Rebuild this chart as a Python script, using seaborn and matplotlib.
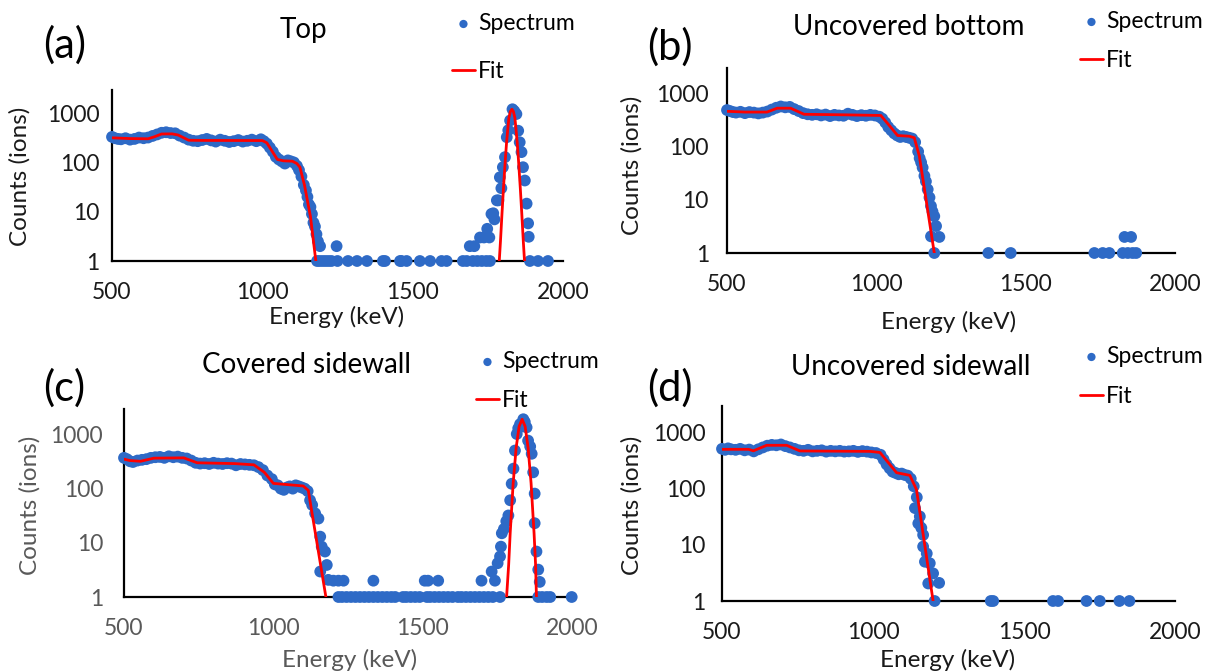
import numpy as np
import pandas as pd
import matplotlib
matplotlib.use("Agg")
import matplotlib.pyplot as plt
from matplotlib.ticker import FixedLocator, FixedFormatter, NullLocator
import seaborn as sns

# ---------------- data ----------------
# Panel (a) Top
a_energy = [500, 510, 520, 530, 545, 560, 575, 590, 605, 620, 635, 650, 665, 680, 695, 710, 725, 740,
            755, 770, 785, 800, 815, 830, 845, 860, 875, 890, 905, 920, 935, 950, 965, 980, 995,
            1005, 1015, 1025, 1035, 1045, 1055, 1065, 1075, 1085, 1095, 1105, 1115, 1122, 1130, 1138,
            1145, 1150, 1155, 1160, 1165, 1170, 1175, 1180, 1185, 1192,
            1182, 1190, 1200, 1210, 1220, 1230, 1247, 1250, 1285, 1315, 1348, 1401, 1408, 1458, 1463,
            1480, 1524, 1558, 1596, 1613, 1667, 1680, 1700, 1715, 1730, 1745, 1757, 1890, 1917, 1950,
            1690, 1705, 1724, 1737, 1748, 1755, 1762, 1768, 1772, 1780, 1785, 1790, 1795, 1800, 1807,
            1813, 1818, 1824, 1832, 1838, 1845, 1851, 1856, 1862, 1867, 1873, 1879, 1884, 1886]
a_counts = [330, 310, 300, 295, 310, 290, 300, 320, 310, 320, 345, 370, 400, 410, 395, 390, 350, 320,
            290, 275, 270, 285, 300, 280, 265, 290, 275, 260, 270, 285, 265, 275, 290, 270, 295,
            270, 240, 200, 165, 130, 115, 105, 95, 110, 105, 100, 85, 70, 52, 35,
            27, 20, 14, 12.5, 9, 6, 5, 3.5, 2.5, 2,
            1, 1, 1, 1, 1, 1, 2, 1, 1, 1, 1, 1, 1, 1, 1,
            1, 1, 1, 1, 1, 1, 1, 1, 1, 1, 1, 1, 1, 1, 1,
            2, 2, 3, 3, 4.5, 3, 9, 9.3, 7, 17, 17, 50, 30, 80, 128,
            325, 450, 710, 1200, 1100, 960, 440, 257, 162, 80, 43, 14.6, 5.8, 3.1]
a_fit_energy = [500, 560, 620, 640, 665, 700, 720, 755, 800, 1000, 1015, 1035, 1050, 1070, 1100, 1115,
                1125, 1140, 1160, 1178]
a_fit_counts = [316, 305, 302, 330, 378, 380, 360, 282, 280, 278, 250, 160, 115, 108, 106, 95,
                80, 35, 8, 1]
a_peak_energy = [1788, 1792, 1797, 1802, 1808, 1812, 1816, 1820, 1825, 1830, 1835, 1840, 1844, 1848,
                 1852, 1858, 1863, 1868, 1872]
a_peak_counts = [1, 2.5, 9, 30, 110, 240, 450, 800, 1080, 1200, 1080, 800, 450, 240,
                 110, 30, 9, 2.5, 1]

# Panel (b) Uncovered bottom
b_energy = [500, 510, 520, 530, 545, 560, 575, 590, 605, 620, 635, 650, 665, 680, 695, 710, 725, 740,
            755, 770, 785, 800, 815, 830, 845, 860, 875, 890, 905, 920, 935, 950, 965, 980, 995,
            1010, 1020, 1030, 1040, 1050, 1060, 1070, 1080, 1090, 1100, 1110, 1120, 1130, 1140,
            1145, 1150, 1155, 1161, 1166, 1172, 1178, 1183, 1188, 1194, 1200, 1183, 1211, 1194,
            1375, 1450, 1730, 1758, 1780, 1825, 1842, 1858, 1870, 1831, 1853]
b_counts = [480, 460, 440, 430, 445, 420, 440, 430, 415, 430, 450, 490, 530, 560, 540, 550, 500, 460,
            420, 400, 390, 400, 380, 395, 370, 390, 380, 375, 410, 390, 370, 385, 375, 390, 380,
            360, 330, 280, 230, 200, 175, 160, 150, 155, 150, 145, 140, 120, 80,
            60, 50, 40, 28, 22, 15.6, 11, 7.6, 6, 4.9, 3.2, 2.05, 2, 1,
            1, 1, 1, 1, 1, 1, 1, 1, 1, 2, 2]
b_fit_energy = [500, 560, 634, 668, 713, 758, 900, 1015, 1040, 1071, 1110, 1127, 1144, 1194]
b_fit_counts = [455, 440, 440, 520, 520, 400, 390, 380, 260, 160, 155, 145, 66, 1]

# Panel (c) Covered sidewall
c_energy = [500, 510, 520, 530, 545, 560, 575, 590, 605, 620, 635, 650, 665, 680, 695, 710, 725, 740,
            755, 770, 785, 800, 815, 830, 845, 860, 875, 890, 905, 920, 935, 950, 965, 980, 995,
            1005, 1015, 1025, 1035, 1045, 1055, 1065, 1075, 1085, 1095, 1105, 1115, 1123, 1130, 1140,
            1151, 1157, 1162, 1173, 1179, 1157, 1184, 1201, 1218, 1235, 1335, 1507, 1518, 1552,
            1218, 1230, 1245, 1260, 1275, 1290, 1305, 1320, 1335, 1350, 1365, 1380, 1395, 1408, 1434,
            1445, 1460, 1475, 1490, 1514, 1525, 1540, 1555, 1570, 1585, 1600, 1618, 1630, 1645, 1660,
            1675, 1690, 1705, 1720, 1735, 1759, 1887, 1900, 1915, 1927, 1999,
            1697, 1742, 1731, 1751, 1759, 1762, 1765, 1772, 1780, 1787, 1793, 1798, 1804, 1809, 1815,
            1820, 1826, 1837, 1842, 1848, 1853, 1860, 1865, 1870, 1875, 1875, 1881, 1887, 1892]
c_counts = [370, 350, 320, 310, 330, 340, 350, 370, 380, 385, 370, 395, 380, 390, 370, 360, 330, 300,
            290, 295, 285, 300, 290, 285, 295, 290, 270, 285, 280, 275, 270, 250, 220, 175, 150,
            120, 115, 100, 95, 105, 110, 100, 115, 110, 105, 100, 90, 61, 50, 35,
            28, 13, 8.5, 6.9, 3.9, 2.95, 2.07, 2, 2, 2, 2, 2, 2, 2,
            1, 1, 1, 1, 1, 1, 1, 1, 1, 1, 1, 1, 1, 1, 1,
            1, 1, 1, 1, 1, 1, 1, 1, 1, 1, 1, 1, 1, 1, 1,
            1, 1, 1, 1, 1, 1, 1, 1, 1, 1, 1,
            2, 2, 2.95, 4.2, 5.6, 8.5, 15, 18, 25, 32, 61, 123, 234, 505, 1020,
            1300, 1550, 1910, 1700, 1350, 770, 600, 440, 200, 81, 23, 6.9, 3.2, 1.9]
c_fit_energy = [500, 520, 555, 600, 700, 745, 870, 935, 970, 1000, 1100, 1117, 1176]
c_fit_counts = [350, 330, 320, 365, 370, 300, 290, 275, 200, 125, 112, 93, 1]
c_peak_energy = [1781, 1788, 1793, 1803, 1813, 1823, 1833, 1843, 1853, 1863, 1873, 1878, 1881]
c_peak_counts = [1, 4, 15, 126, 570, 1410, 1910, 1410, 570, 126, 15, 4, 1]

# Panel (d) Uncovered sidewall
d_energy = [500, 510, 520, 530, 545, 560, 575, 590, 605, 620, 635, 650, 665, 680, 695, 710, 725, 740,
            755, 770, 785, 800, 815, 830, 845, 860, 875, 890, 905, 920, 935, 950, 965, 980, 995,
            1010, 1025, 1035, 1045, 1055, 1065, 1075, 1085, 1095, 1105, 1115, 1125, 1135, 1139, 1145,
            1150, 1155, 1160, 1166, 1166, 1172, 1178, 1188, 1199, 1183, 1219, 1204,
            1390, 1398, 1596, 1613, 1707, 1751, 1816, 1849]
d_counts = [510, 490, 520, 500, 490, 510, 480, 495, 460, 500, 540, 580, 600, 590, 610, 570, 540, 510,
            480, 470, 490, 460, 470, 480, 455, 470, 460, 470, 455, 460, 470, 450, 465, 455, 440,
            430, 400, 330, 270, 230, 200, 190, 180, 185, 175, 170, 150, 110, 45, 70,
            24, 32, 20, 15, 9.3, 5, 7, 4.7, 3.1, 2.05, 2.1, 1,
            1, 1, 1, 1, 1, 1, 1, 1]
d_fit_energy = [500, 588, 604, 648, 714, 758, 990, 1023, 1078, 1122, 1144, 1199]
d_fit_counts = [500, 500, 470, 590, 590, 468, 460, 440, 192, 172, 96, 1]

titles = ["Top", "Uncovered bottom", "Covered sidewall", "Uncovered sidewall"]
letters = ["(a)", "(b)", "(c)", "(d)"]
x_ticks = [500, 1000, 1500, 2000]
y_ticks = [1, 10, 100, 1000]
y_tick_labels = ["1", "10", "100", "1000"]
x_label = "Energy (keV)"
y_label = "Counts (ions)"

# ---------------- style ----------------
sns.set_theme(style="white")
plt.rcParams['font.family'] = ['Lato', 'DejaVu Sans']

BLUE = "#2E6AC6"
RED = "#FF0000"
W, H = 1205, 671
fig = plt.figure(figsize=(W / 100, H / 100), dpi=100)


def rect(x0, x1, ytop, ybot):
    return [x0 / W, 1 - ybot / H, (x1 - x0) / W, (ybot - ytop) / H]


panels = [
    dict(r=rect(112, 563, 90, 261), E=a_energy, C=a_counts, fE=a_fit_energy, fC=a_fit_counts,
         pE=a_peak_energy, pC=a_peak_counts, tc="#1a1a1a", ypad=4,
         title=(303, 30), letter=(65, 45), xl=(337, 317), yl=(20, 176),
         leg=(452, 13), lsp=1.2),
    dict(r=rect(727, 1175, 68, 253), E=b_energy, C=b_counts, fE=b_fit_energy, fC=b_fit_counts,
         pE=None, pC=None, tc="#1a1a1a", ypad=8,
         title=(909, 27), letter=(670, 47), xl=(949, 322), yl=(632, 165),
         leg=(1080, 11), lsp=0.8),
    dict(r=rect(124, 572, 409, 597), E=c_energy, C=c_counts, fE=c_fit_energy, fC=c_fit_counts,
         pE=c_peak_energy, pC=c_peak_counts, tc="#595959", ypad=10,
         title=(306, 365), letter=(64, 388), xl=(350, 660), yl=(30, 505),
         leg=(476, 351), lsp=0.8),
    dict(r=rect(722, 1175, 406, 601), E=d_energy, C=d_counts, fE=d_fit_energy, fC=d_fit_counts,
         pE=None, pC=None, tc="#1a1a1a", ypad=7,
         title=(911, 367), letter=(670, 388), xl=(948, 660), yl=(632, 505),
         leg=(1080, 346), lsp=0.85),
]

for i, p in enumerate(panels):
    ax = fig.add_axes(p["r"])
    sns.scatterplot(x=p["E"], y=p["C"], ax=ax, color=BLUE, s=72, edgecolor="none",
                    linewidth=0, label="Spectrum", zorder=3, clip_on=False)
    sns.lineplot(x=p["fE"], y=p["fC"], ax=ax, color=RED, linewidth=2.0, sort=False,
                 estimator=None, label="Fit", zorder=4)
    if p["pE"] is not None:
        sns.lineplot(x=p["pE"], y=p["pC"], ax=ax, color=RED, linewidth=2.0, sort=False,
                     estimator=None, zorder=4)
    ax.set_yscale("log")
    ax.set_xlim(500, 2000)
    ax.set_ylim(1, 10 ** 3.47)
    ax.xaxis.set_major_locator(FixedLocator(x_ticks))
    ax.yaxis.set_major_locator(FixedLocator(y_ticks))
    ax.yaxis.set_major_formatter(FixedFormatter(y_tick_labels))
    ax.yaxis.set_minor_locator(NullLocator())
    ax.xaxis.set_minor_locator(NullLocator())
    for s in ["top", "right"]:
        ax.spines[s].set_visible(False)
    for s in ["left", "bottom"]:
        ax.spines[s].set_color("black")
        ax.spines[s].set_linewidth(1.6)
    ax.tick_params(axis="both", which="major", direction="inout", length=10, width=1.6,
                   color="black", labelsize=16.5, labelcolor=p["tc"])
    ax.tick_params(axis="y", pad=p["ypad"])
    ax.tick_params(axis="x", pad=10)
    ax.set_xlabel("")
    ax.set_ylabel("")
    ax.grid(False)
    ax.set_facecolor("none")

    fig.text(p["xl"][0] / W, 1 - p["xl"][1] / H, x_label, ha="center", va="center",
             fontsize=17.5, color=p["tc"])
    fig.text(p["yl"][0] / W, 1 - p["yl"][1] / H, y_label, ha="center", va="center",
             fontsize=17.5, color=p["tc"], rotation=90)
    fig.text(p["title"][0] / W, 1 - p["title"][1] / H, titles[i], ha="center", va="center",
             fontsize=20, color="black")
    fig.text(p["letter"][0] / W, 1 - p["letter"][1] / H, letters[i], ha="center", va="center",
             fontsize=30, color="black")

    leg = ax.legend(loc="upper left", bbox_to_anchor=(p["leg"][0] / W, 1 - p["leg"][1] / H),
                    bbox_transform=fig.transFigure, frameon=False, fontsize=16.5,
                    handlelength=1.0, handletextpad=0.15, labelspacing=p["lsp"],
                    borderpad=0, borderaxespad=0, markerscale=0.7)
    for t in leg.get_texts():
        t.set_color("black")

fig.savefig("out.png", dpi=100)
